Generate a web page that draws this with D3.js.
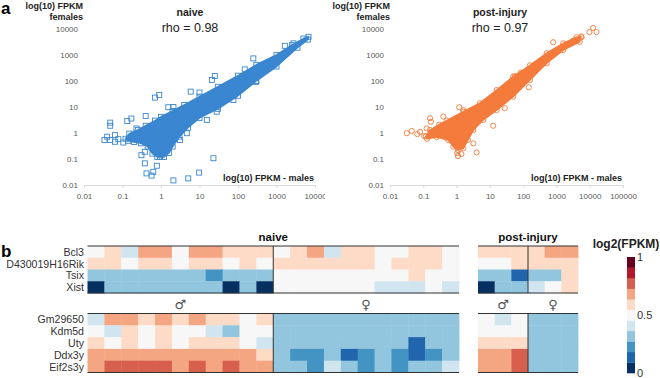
<!DOCTYPE html>
<html><head><meta charset="utf-8">
<script src="https://cdn.jsdelivr.net/npm/d3@7"></script>
<style>body{margin:0;background:#fff}svg{display:block;font-family:"Liberation Sans",Arial,sans-serif}</style>
</head><body>
<svg id="c" width="660" height="378"></svg>
<script>
// ---------- panel a data ----------
const xTicksNaive = [0.01, 0.1, 1, 10, 100, 1000, 10000];
const xTicksInjury = [0.01, 0.1, 1, 10, 100, 1000, 10000, 100000];
const yTicks = [0.01, 0.1, 1, 10, 100, 1000, 10000];

// outline of the dense (overplotted) cloud, [males FPKM, females FPKM]
const naiveCloud = [
  [0.12,0.6],[0.15,0.95],[0.25,1.3],[0.4,1.9],[0.7,3.0],[1,4.2],[2,7],[4,12],[10,25],[30,60],
  [100,160],[300,420],[1000,1000],[2500,2400],[5000,4300],[6800,5000],
  [6500,3900],[3500,1900],[1000,360],[300,100],[100,27],[30,8.5],[10,3.8],[5,1.6],[3,0.72],
  [2,0.3],[1.6,0.17],[1.2,0.12],[0.8,0.12],[0.6,0.16],[0.45,0.3],[0.3,0.4],[0.2,0.45],[0.14,0.5]
];
const naiveOutliers = [
  [0.034,0.54],[0.048,2.5],[0.048,1.9],[0.04,0.72],[0.064,0.83],[0.078,0.58],[0.105,0.43],
  [0.133,2.9],[0.17,3.6],[0.23,1.5],[0.40,4.5],[0.70,23],[0.9,29],[1.55,9.8],[2.1,10],
  [5.9,39],[10,36],[25,155],[21,110],[150,280],[250,740],[295,93],[1650,2250],[2750,2800],
  [0.38,0.19],[0.38,0.068],[0.42,0.028],[0.63,0.032],[0.57,0.023],[0.78,0.055],[2.1,0.015],
  [5.1,0.018],[9.8,0.03],[23,0.107],[3.1,0.54],[4.7,0.98],[15.5,3.2],[28,6.6],[76,18.6],
  [62,34],[0.048,0.54],[0.064,0.46],[0.31,0.14],[0.94,0.12]
];
const injuryCloud = [
  [0.12,0.75],[0.16,1.3],[0.3,2.1],[0.5,3.0],[1.6,6.6],[5,14],[16,45],[50,147],[160,400],
  [510,1170],[1600,2800],[4000,4800],[5500,5200],
  [5000,3200],[1600,1550],[510,480],[160,110],[50,25],[16,7.6],[6.3,3.2],[3.2,1.3],
  [2.2,0.54],[1.6,0.26],[1.1,0.22],[0.8,0.3],[0.56,0.54],[0.25,0.7],[0.13,0.6]
];
const injuryOutliers = [
  [0.032,0.98],[0.045,1.2],[0.066,0.91],[0.08,1.1],[0.107,0.76],[0.126,1.5],[0.16,3.7],
  [0.17,2.7],[0.4,4.3],[1.2,9.8],[1.6,7.6],[1.05,0.17],[1.1,0.13],[1.4,0.155],[4,0.18],
  [3.2,0.4],[12.6,1.9],[28,8.9],[85,210],[148,57],[800,3100],[3200,3550],[5700,4800],
  [9800,7600],[12600,11000],[16000,7600],[56,155]
];

// ---------- panel b data (log2 FPKM, scaled 0..1) ----------
const genesTop = ["Bcl3","D430019H16Rik","Tsix","Xist"];
const genesBottom = ["Gm29650","Kdm5d","Uty","Ddx3y","Eif2s3y"];
const naiveTopValues = [
  [0.5,0.59,0.41,0.68,0.68,0.5,0.68,0.68,0.59,0.59,0.59, 0.5,0.59,0.68,0.41,0.59,0.59,0.5,0.5,0.59,0.59,0.5],
  [0.59,0.59,0.5,0.59,0.59,0.5,0.59,0.59,0.5,0.59,0.5, 0.59,0.59,0.59,0.59,0.59,0.59,0.5,0.59,0.59,0.59,0.5],
  [0.32,0.32,0.32,0.32,0.32,0.32,0.32,0.23,0.32,0.32,0.32, 0.5,0.5,0.5,0.5,0.5,0.5,0.5,0.5,0.59,0.5,0.5],
  [0.05,0.32,0.32,0.32,0.32,0.32,0.32,0.32,0.05,0.32,0.05, 0.5,0.5,0.5,0.5,0.5,0.5,0.41,0.41,0.41,0.5,0.41]
];
const naiveBottomValues = [
  [0.41,0.68,0.68,0.59,0.68,0.59,0.68,0.59,0.59,0.5,0.59, 0.32,0.32,0.32,0.32,0.32,0.32,0.32,0.32,0.32,0.32,0.32],
  [0.5,0.41,0.59,0.5,0.59,0.5,0.5,0.41,0.32,0.5,0.5, 0.32,0.32,0.32,0.32,0.32,0.32,0.32,0.32,0.32,0.32,0.32],
  [0.59,0.5,0.59,0.5,0.59,0.5,0.59,0.59,0.59,0.5,0.41, 0.32,0.32,0.32,0.32,0.32,0.32,0.32,0.32,0.14,0.32,0.32],
  [0.68,0.68,0.68,0.68,0.68,0.68,0.68,0.68,0.68,0.68,0.59, 0.32,0.23,0.23,0.32,0.14,0.23,0.32,0.23,0.14,0.23,0.32],
  [0.68,0.77,0.77,0.77,0.77,0.68,0.77,0.68,0.77,0.68,0.68, 0.32,0.32,0.23,0.41,0.32,0.23,0.32,0.23,0.32,0.32,0.41]
];
const injuryTopValues = [
  [0.59,0.59,0.59, 0.59,0.68,0.68],
  [0.5,0.5,0.59, 0.59,0.59,0.59],
  [0.32,0.32,0.14, 0.32,0.32,0.59],
  [0.05,0.32,0.32, 0.41,0.5,0.59]
];
const injuryBottomValues = [
  [0.5,0.41,0.5, 0.32,0.32,0.32],
  [0.5,0.5,0.5, 0.32,0.32,0.32],
  [0.59,0.59,0.59, 0.32,0.32,0.32],
  [0.68,0.68,0.77, 0.32,0.32,0.32],
  [0.68,0.68,0.77, 0.32,0.32,0.32]
];
const naiveMales = 11, naiveFemales = 11, injuryMales = 3, injuryFemales = 3;
const colorbarTicks = [0, 0.5, 1];

// ---------- drawing ----------
const svg = d3.select("#c");
const BLUE = "#3a86d0", ORANGE = "#f47b3b";

svg.append("defs").append("clipPath").attr("id","clipL")
  .append("rect").attr("x",0).attr("y",0).attr("width",325).attr("height",205);

function scatter(g, xDomain, xRange, xTicks, cloud, outliers, color, shape, title, rho, yLabelX) {
  const x = d3.scaleLog().domain(xDomain).range(xRange);
  const y = d3.scaleLog().domain([0.01, 10000]).range([185, 29]);
  const fmt = d => String(d);
  const xa = g.append("g").attr("transform","translate(0,185)")
    .call(d3.axisBottom(x).tickValues(xTicks).tickFormat(fmt).tickSize(3).tickPadding(5));
  xa.select(".domain").attr("stroke","#d9d9d9");
  xa.selectAll(".tick line").attr("stroke","#d9d9d9");
  xa.selectAll("text").attr("fill","#595959").style("font-size","8px");
  const ya = g.append("g").attr("transform",`translate(${xRange[0]},0)`)
    .call(d3.axisLeft(y).tickValues(yTicks).tickFormat(fmt).tickSize(0).tickPadding(6));
  ya.select(".domain").remove();
  ya.selectAll("text").attr("fill","#595959").style("font-size","8px");

  const line = d3.line().x(d => x(d[0])).y(d => y(d[1])).curve(d3.curveLinearClosed);
  g.append("path").attr("d", line(cloud)).attr("fill", color).attr("stroke", color)
    .attr("stroke-width", 1.5).attr("stroke-linejoin","round");
  const pts = outliers.concat(cloud);
  if (shape === "square") {
    g.selectAll("rect.pt").data(pts).join("rect").attr("class","pt")
      .attr("x", d => x(d[0]) - 2.5).attr("y", d => y(d[1]) - 2.5)
      .attr("width",5).attr("height",5).attr("fill","none").attr("stroke",color).attr("stroke-width",0.9);
  } else {
    g.selectAll("circle.pt").data(pts).join("circle").attr("class","pt")
      .attr("cx", d => x(d[0])).attr("cy", d => y(d[1])).attr("r",2.6)
      .attr("fill","none").attr("stroke",color).attr("stroke-width",0.9);
  }
  g.append("text").attr("x", title.x).attr("y",16).attr("text-anchor","middle")
    .attr("font-weight","bold").style("font-size","10.5px").attr("fill","#222").text(title.t);
  g.append("text").attr("x", title.x).attr("y",32).attr("text-anchor","middle")
    .style("font-size","12.5px").attr("fill","#222").text(rho);
  g.append("text").attr("x", yLabelX).attr("y",9).attr("text-anchor","end")
    .attr("font-weight","bold").style("font-size","9px").attr("fill","#222").text("log(10) FPKM");
  g.append("text").attr("x", yLabelX).attr("y",20).attr("text-anchor","end")
    .attr("font-weight","bold").style("font-size","9px").attr("fill","#222").text("females");
  g.append("text").attr("x", xRange[1] - 1).attr("y",181).attr("text-anchor","end")
    .attr("font-weight","bold").style("font-size","9px").attr("fill","#222").text("log(10) FPKM - males");
}

const gL = svg.append("g").attr("clip-path","url(#clipL)");
scatter(gL, [0.01,10000], [84,315], xTicksNaive, naiveCloud, naiveOutliers, BLUE, "square",
  {t:"naive", x:190}, "rho = 0.98", 83);
const gR = svg.append("g");
scatter(gR, [0.01,100000], [390,623], xTicksInjury, injuryCloud, injuryOutliers, ORANGE, "circle",
  {t:"post-injury", x:500}, "rho = 0.97", 390);

svg.append("text").attr("x",1).attr("y",14).attr("font-weight","bold").style("font-size","17px").text("a");
svg.append("text").attr("x",1).attr("y",257).attr("font-weight","bold").style("font-size","17px").text("b");

// heatmap
const color = d3.scaleQuantize().domain([0,1]).range(d3.schemeRdBu[11].slice().reverse());
const xNaive = d3.scaleBand().domain(d3.range(naiveMales + naiveFemales)).range([87.5, 459]);
const xInj = d3.scaleBand().domain(d3.range(injuryMales + injuryFemales)).range([478, 578]);
const yTop = d3.scaleBand().domain(genesTop).range([246, 293]);
const yBot = d3.scaleBand().domain(genesBottom).range([313.5, 372.5]);

function block(values, genes, xs, ys, nMale) {
  const g = svg.append("g");
  values.forEach((row, ri) => {
    g.selectAll(null).data(row).join("rect")
      .attr("x", (d,i) => xs(i)).attr("y", ys(genes[ri]))
      .attr("width", xs.bandwidth() + 0.4).attr("height", ys.bandwidth() + 0.4)
      .attr("fill", d => color(d));
  });
  const [x0, x1] = xs.range(), [y0, y1] = ys.range();
  g.append("line").attr("x1",x0).attr("x2",x1).attr("y1",y0).attr("y2",y0).attr("stroke","#333").attr("stroke-width",1.2);
  g.append("line").attr("x1",x0).attr("x2",x1).attr("y1",y1).attr("y2",y1).attr("stroke","#333").attr("stroke-width",1.2);
  g.append("line").attr("x1",xs(nMale)).attr("x2",xs(nMale)).attr("y1",y0).attr("y2",y1).attr("stroke","#333").attr("stroke-width",1);
}
block(naiveTopValues, genesTop, xNaive, yTop, naiveMales);
block(naiveBottomValues, genesBottom, xNaive, yBot, naiveMales);
block(injuryTopValues, genesTop, xInj, yTop, injuryMales);
block(injuryBottomValues, genesBottom, xInj, yBot, injuryMales);

genesTop.forEach(gn => svg.append("text").attr("x",84).attr("y", yTop(gn) + yTop.bandwidth()/2 + 4)
  .attr("text-anchor","end").style("font-size","10.6px").attr("fill","#333").text(gn));
genesBottom.forEach(gn => svg.append("text").attr("x",84).attr("y", yBot(gn) + yBot.bandwidth()/2 + 4)
  .attr("text-anchor","end").style("font-size","10.6px").attr("fill","#333").text(gn));

svg.append("text").attr("x", xNaive(naiveMales)).attr("y",241).attr("text-anchor","middle")
  .attr("font-weight","bold").style("font-size","11.5px").attr("fill","#111").text("naive");
svg.append("text").attr("x", xInj(injuryMales)).attr("y",241).attr("text-anchor","middle")
  .attr("font-weight","bold").style("font-size","11.5px").attr("fill","#111").text("post-injury");

const sym = [
  {s:"\u2642", x:(xNaive(0)+xNaive(naiveMales))/2},
  {s:"\u2640", x:(xNaive(naiveMales)+xNaive.range()[1])/2},
  {s:"\u2642", x:(xInj(0)+xInj(injuryMales))/2},
  {s:"\u2640", x:(xInj(injuryMales)+xInj.range()[1])/2}
];
sym.forEach(d => svg.append("text").attr("x", d.x).attr("y",309).attr("text-anchor","middle")
  .style("font-family","DejaVu Sans").style("font-size","13px").attr("fill","#555").text(d.s));

// colorbar
const cbY = d3.scaleLinear().domain([0,1]).range([373, 257]);
const bands = color.range();
const bandEdges = d3.range(bands.length + 1).map(i => i / bands.length);
svg.append("g").selectAll("rect").data(bands).join("rect")
  .attr("x",627).attr("width",8)
  .attr("y",(d,i) => cbY(bandEdges[i+1])).attr("height",(d,i) => cbY(bandEdges[i]) - cbY(bandEdges[i+1]) + 0.3)
  .attr("fill", d => d);
colorbarTicks.forEach(t => svg.append("text").attr("x",637).attr("y", cbY(t) + 4)
  .style("font-size","11px").attr("fill","#333").text(String(t)));
svg.append("text").attr("x",626).attr("y",248).attr("text-anchor","middle")
  .attr("font-weight","bold").style("font-size","12px").attr("fill","#222").text("log2(FPKM)");
</script>
</body></html>
